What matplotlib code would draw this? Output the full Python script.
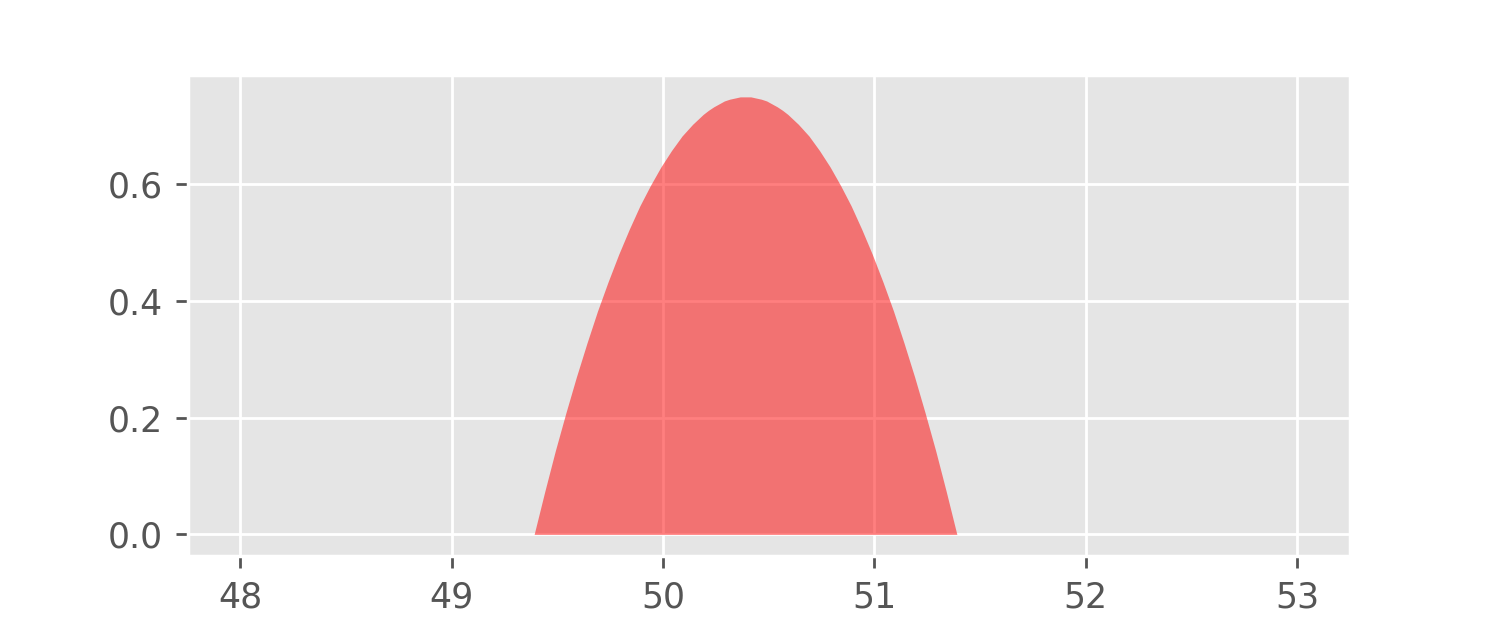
import matplotlib
matplotlib.use("Agg")
import matplotlib.pyplot as plt

plt.style.use("ggplot")

x_vals = [48.0, 49.39, 49.44, 49.49, 49.54, 49.59, 49.64, 49.69, 49.74, 49.79, 49.84, 49.89,
          49.94, 49.99, 50.04, 50.09, 50.14, 50.19, 50.215, 50.24, 50.265, 50.29, 50.315,
          50.34, 50.365, 50.39, 50.415, 50.44, 50.465, 50.49, 50.515, 50.54, 50.565,
          50.59, 50.64, 50.69, 50.74, 50.79, 50.84, 50.89,
          50.94, 50.99, 51.04, 51.09, 51.14, 51.19, 51.24, 51.29, 51.34, 51.39, 53.0]
density = [0.0, 0.0, 0.073, 0.143, 0.208, 0.270, 0.328, 0.383, 0.433, 0.480, 0.523, 0.563,
           0.598, 0.630, 0.658, 0.683, 0.703, 0.720, 0.727, 0.733, 0.738, 0.743, 0.746,
           0.748, 0.750, 0.750, 0.750, 0.748, 0.746, 0.743, 0.738, 0.733, 0.727,
           0.720, 0.703, 0.683, 0.658, 0.630, 0.598, 0.563,
           0.523, 0.480, 0.433, 0.383, 0.328, 0.270, 0.208, 0.143, 0.073, 0.0, 0.0]

fig, ax = plt.subplots(figsize=(6, 2.5), dpi=250)
ax.fill_between(x_vals, density, color="red", alpha=0.5, linewidth=0)
ax.set_yticks([0.0, 0.2, 0.4, 0.6])
ax.set_xticks([48, 49, 50, 51, 52, 53])
fig.savefig("out.png", dpi=250)
